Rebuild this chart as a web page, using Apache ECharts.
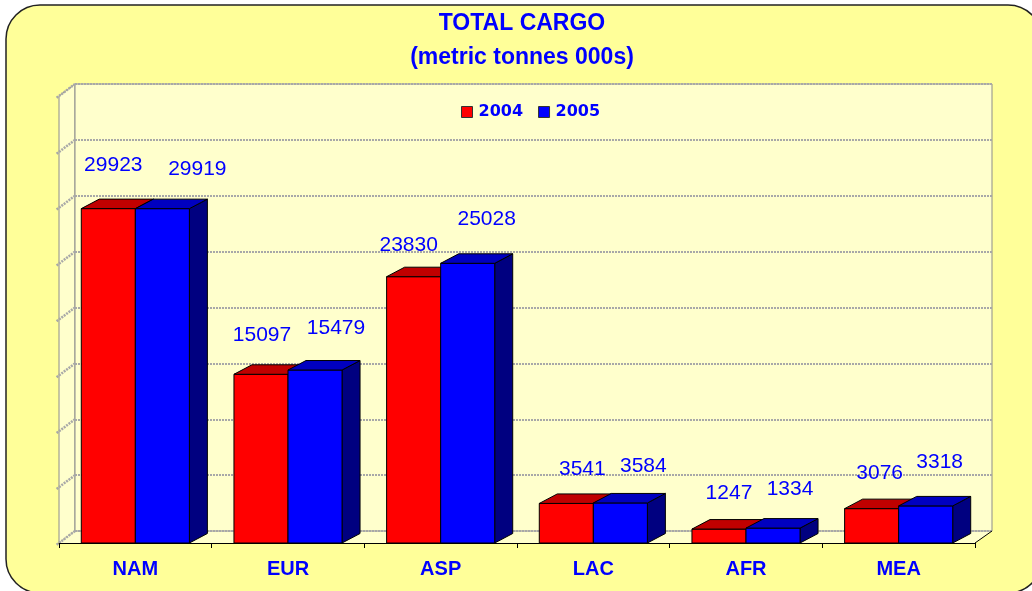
<!DOCTYPE html>
<html>
<head>
<meta charset="utf-8">
<script src="https://cdn.jsdelivr.net/npm/echarts/dist/echarts.min.js"></script>
<style>
  html, body { margin: 0; padding: 0; background: #ffffff; }
  #chart { width: 1032px; height: 591px; }
</style>
</head>
<body>
<div id="chart"></div>
<script>
// ---- data ----
const categories = ['NAM', 'EUR', 'ASP', 'LAC', 'AFR', 'MEA'];
const seriesNames = ['2004', '2005'];
const cargo2004 = [29923, 15097, 23830, 3541, 1247, 3076];
const cargo2005 = [29919, 15479, 25028, 3584, 1334, 3318];
const yTicks = [0, 5000, 10000, 15000, 20000, 25000, 30000, 35000, 40000];
const titleLines = ['TOTAL CARGO', '(metric tonnes 000s)'];

// ---- label nudges (Excel 3D label placement, relative to bar top) ----
const labelNudge2004 = [[5, -43], [1, -39], [-5, -31], [16, -34], [10, -36], [8, -35]];
const labelNudge2005 = [[35, -39], [21, -42], [19, -44], [23, -37], [17, -39], [14, -44]];

// ---- layout / style ----
const FRONT = { left: 59, top: 96, width: 916, height: 447 };
const DEPTH = { dx: 16, dy: 12 };
const BAR = { ratio: 0.354, dx: 18, dy: 9.5 };
const COLORS = {
  red:  { front: '#FF0000', top: '#C00000', side: '#800000' },
  blue: { front: '#0000FF', top: '#0000C0', side: '#000080' }
};
const FONT = "'Liberation Sans', Arial, sans-serif";
const GRIDLINE = { color: '#a8a8a8', width: 2, dash: [2, 1] };
const W = 1032, H = 591;

const chart = echarts.init(document.getElementById('chart'), null, { renderer: 'canvas', width: W, height: H });

const backGrid = {
  left: FRONT.left + DEPTH.dx, top: FRONT.top - DEPTH.dy,
  width: FRONT.width + 1, height: FRONT.height,
  show: true, backgroundColor: '#FFFFCC', borderColor: '#8c8c8c', borderWidth: 1
};
const frontGrid = { left: FRONT.left, top: FRONT.top, width: FRONT.width, height: FRONT.height, show: false };

function barRenderer(which, nudges) {
  const col = which === 0 ? COLORS.red : COLORS.blue;
  return function (params, api) {
    const i = api.value(0), v = api.value(1);
    const base = api.coord([i, 0]);
    const top = api.coord([i, v]);
    const band = api.size([1, 0])[0];
    const w = band * BAR.ratio;
    const x0 = which === 0 ? base[0] - w : base[0];
    const x1 = x0 + w;
    const yb = base[1], yt = top[1];
    const dx = BAR.dx, dy = BAR.dy;
    const edge = { stroke: '#000000', lineWidth: 1 };
    const n = nudges[params.dataIndex];
    return {
      type: 'group',
      children: [
        { type: 'polygon', shape: { points: [[x1, yt], [x1 + dx, yt - dy], [x1 + dx, yb - dy], [x1, yb]] },
          style: Object.assign({ fill: col.side }, edge) },
        { type: 'polygon', shape: { points: [[x0, yt], [x1, yt], [x1, yb], [x0, yb]] },
          style: Object.assign({ fill: col.front }, edge) },
        { type: 'polygon', shape: { points: [[x0, yt], [x0 + dx, yt - dy], [x1 + dx, yt - dy], [x1, yt]] },
          style: Object.assign({ fill: col.top }, edge) },
        { type: 'text', z2: 10, style: {
            text: String(v), x: (x0 + x1) / 2 + n[0], y: yt + n[1],
            align: 'center', verticalAlign: 'middle',
            font: 'normal 21px ' + FONT, fill: '#0000FF' } }
      ]
    };
  };
}

function gridExtRenderer(params, api) {
  const y = api.coord([0, api.value(1)])[1];
  const x = params.coordSys.x;
  return {
    type: 'line',
    shape: { x1: x, y1: y, x2: x - DEPTH.dx - 2.5, y2: y + DEPTH.dy + 1.9 },
    style: { stroke: GRIDLINE.color, lineWidth: GRIDLINE.width + 0.5, lineDash: GRIDLINE.dash }
  };
}

const fl = FRONT.left, ft = FRONT.top, fr = FRONT.left + FRONT.width, fb = FRONT.top + FRONT.height;
const bl = fl + DEPTH.dx, bt = ft - DEPTH.dy, br = fr + DEPTH.dx + 1, bb = fb - DEPTH.dy;

const option = {
  animation: false,
  color: [COLORS.red.front, COLORS.blue.front],
  title: {
    text: titleLines.join('\n'),
    left: 522, top: 7, textAlign: 'center', padding: 0,
    textStyle: { color: '#0000FF', fontFamily: FONT, fontWeight: 'bold', fontSize: 23, lineHeight: 34 }
  },
  legend: {
    left: 461, top: 104, padding: 0, itemGap: 15,
    itemWidth: 11, itemHeight: 11, icon: 'rect',
    data: [
      { name: seriesNames[0], itemStyle: { color: COLORS.red.front, borderColor: '#333', borderWidth: 1 } },
      { name: seriesNames[1], itemStyle: { color: COLORS.blue.front, borderColor: '#333', borderWidth: 1 } }
    ],
    textStyle: { color: '#0000FF', fontFamily: "'DejaVu Sans', sans-serif", fontWeight: 'bold', fontSize: 16, padding: [0, 0, 0, 1] },
    selectedMode: false
  },
  graphic: [
    { type: 'rect', z: -10, silent: true,
      shape: { x: 6, y: 5, width: 1036, height: 588, r: 34 },
      style: { fill: '#FFFF99', stroke: '#222222', lineWidth: 1.5 } },
    { type: 'polygon', z: -1, silent: true,
      shape: { points: [[fl, ft], [bl, bt], [bl, bb], [fl, fb]] },
      style: { fill: '#FFFFCC', stroke: '#8c8c8c', lineWidth: 1 } },
    { type: 'polygon', z: -1, silent: true,
      shape: { points: [[fl, fb], [bl, bb], [br, bb], [fr, fb]] },
      style: { fill: '#FFFFCC', stroke: null } },
    { type: 'line', z: 5, silent: true,
      shape: { x1: fr, y1: fb, x2: br, y2: bb },
      style: { stroke: '#000000', lineWidth: 1 } }
  ],
  grid: [backGrid, frontGrid],
  xAxis: [
    { type: 'category', gridIndex: 0, data: categories, show: false },
    { type: 'category', gridIndex: 1, data: categories, boundaryGap: true,
      axisLine: { show: true, lineStyle: { color: '#000000', width: 1 } },
      axisTick: { show: true, length: 5, lineStyle: { color: '#000000' } },
      axisLabel: { color: '#0000FF', fontFamily: FONT, fontWeight: 'bold', fontSize: 20, margin: 16 },
      z: 5 }
  ],
  yAxis: [
    { type: 'value', gridIndex: 0, min: yTicks[0], max: yTicks[yTicks.length - 1], interval: yTicks[1] - yTicks[0],
      axisLine: { show: false }, axisTick: { show: false }, axisLabel: { show: false },
      splitLine: { show: true, lineStyle: { color: GRIDLINE.color, width: GRIDLINE.width, type: GRIDLINE.dash } } },
    { type: 'value', gridIndex: 1, min: yTicks[0], max: yTicks[yTicks.length - 1], interval: yTicks[1] - yTicks[0],
      show: false, splitLine: { show: false } }
  ],
  series: [
    { type: 'custom', name: 'gridext', xAxisIndex: 0, yAxisIndex: 0, silent: true, z: 1,
      renderItem: gridExtRenderer, data: yTicks.map(v => [0, v]) },
    { type: 'custom', name: seriesNames[0], xAxisIndex: 1, yAxisIndex: 1, z: 6,
      itemStyle: { color: COLORS.red.front },
      renderItem: barRenderer(0, labelNudge2004),
      data: cargo2004.map((v, i) => [i, v]) },
    { type: 'custom', name: seriesNames[1], xAxisIndex: 1, yAxisIndex: 1, z: 7,
      itemStyle: { color: COLORS.blue.front },
      renderItem: barRenderer(1, labelNudge2005),
      data: cargo2005.map((v, i) => [i, v]) }
  ]
};
chart.setOption(option);
</script>
</body>
</html>
